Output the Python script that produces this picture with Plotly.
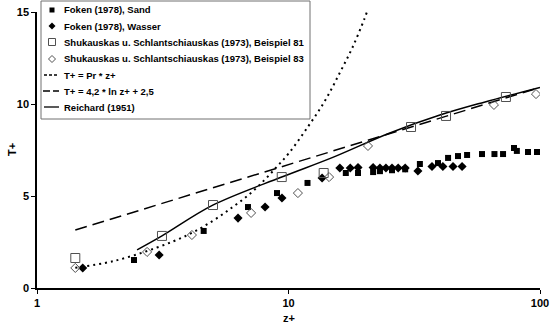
import plotly.graph_objects as go

# ---- data ----
sand_z = [2.43, 4.6, 6.9, 9.0, 11.9, 16.9, 18.9, 21.7, 23.1, 25.8, 29.1, 33.3, 39.3,
          43.1, 47.2, 51.3, 58.8, 65.9, 71.3, 78.8, 80.9, 89.6, 97.3]
sand_t = [1.52, 3.10, 4.40, 5.16, 5.71, 6.25, 6.25, 6.3, 6.35, 6.4, 6.45, 6.74, 6.79,
          7.07, 7.17, 7.23, 7.28, 7.28, 7.28, 7.61, 7.45, 7.39, 7.39]

water_z = [1.52, 3.06, 6.3, 8.07, 9.42, 13.6, 16.0, 17.6, 18.9, 21.7, 23.1, 24.4, 25.8,
           27.3, 29.1, 32.7, 37.2, 41.1, 45.1, 49.0]
water_t = [1.09, 1.79, 3.80, 4.40, 4.89, 5.98, 6.52, 6.52, 6.55, 6.55, 6.52, 6.52, 6.52,
           6.52, 6.52, 6.36, 6.6, 6.6, 6.6, 6.6]

b81_z = [1.42, 3.14, 5.01, 9.4, 13.8, 30.7, 42.3, 73.2]
b81_t = [1.63, 2.83, 4.51, 6.03, 6.25, 8.75, 9.35, 10.38]

b83_z = [1.42, 2.74, 4.13, 7.1, 10.9, 14.5, 20.7, 65.6, 96.4]
b83_t = [1.09, 1.96, 2.88, 4.08, 5.16, 6.03, 7.72, 9.95, 10.54]

pr_z = [1.42, 2.0, 3.0, 4.0, 5.0, 6.0, 7.0, 8.0, 9.0, 10.0, 12.0, 14.0, 16.0, 18.0, 20.0, 20.5]
pr_t = [1.1, 1.45, 2.2, 2.9, 3.65, 4.4, 5.1, 5.85, 6.6, 7.3, 8.8, 10.2, 11.7, 13.1, 14.6, 15.0]

log_z = [1.42, 100]
log_t = [3.15, 10.9]

rei_z = [2.5, 3.14, 5.0, 9.4, 15, 25, 40, 60, 100]
rei_t = [2.07, 2.83, 4.5, 6.03, 7.1, 8.4, 9.4, 10.1, 10.9]

legend_labels = [
    "Foken (1978), Sand",
    "Foken (1978), Wasser",
    "Shukauskas u. Schlantschiauskas (1973), Beispiel 81",
    "Shukauskas u. Schlantschiauskas (1973), Beispiel 83",
    "T+ = Pr * z+",
    "T+ = 4,2 * ln z+ + 2,5",
    "Reichard (1951)",
]
x_ticks = [1, 10, 100]
y_ticks = [0, 5, 10, 15]
x_title = "z+"
y_title = "T+"

FONT = "Arial, Liberation Sans, sans-serif"
GREY = "#505050"

fig = go.Figure()
fig.add_trace(go.Scatter(x=pr_z, y=pr_t, mode="lines", line=dict(color="black", width=2, dash="2px,4px", shape="spline")))
fig.add_trace(go.Scatter(x=log_z, y=log_t, mode="lines", line=dict(color="black", width=1.5, dash="12px,6px")))
fig.add_trace(go.Scatter(x=rei_z, y=rei_t, mode="lines", line=dict(color="black", width=1.5, shape="spline")))
fig.add_trace(go.Scatter(x=sand_z, y=sand_t, mode="markers", marker=dict(symbol="square", size=6, color="black")))
fig.add_trace(go.Scatter(x=water_z, y=water_t, mode="markers", marker=dict(symbol="diamond", size=7, color="black")))
fig.add_trace(go.Scatter(x=b81_z, y=b81_t, mode="markers",
                         marker=dict(symbol="square-open", size=9, color=GREY, line=dict(width=1, color=GREY))))
fig.add_trace(go.Scatter(x=b83_z, y=b83_t, mode="markers",
                         marker=dict(symbol="diamond-open", size=7, color=GREY, line=dict(width=1, color=GREY))))

# ---- custom legend (layout positioning) ----
L, R, T, B = 37, 540, 12, 288
def px(x):
    return (x - L) / (R - L)
def py(y):
    return (B - y) / (B - T)

shapes = []
annotations = []
shapes.append(dict(type="rect", xref="paper", yref="paper", x0=px(41), x1=px(310), y0=py(119), y1=py(1),
                   line=dict(color="#707070", width=1), fillcolor="white", layer="above"))
rows = [10, 26, 42, 59, 75, 91, 107]
cx = 52
shapes.append(dict(type="rect", xref="paper", yref="paper", x0=px(cx - 2.5), x1=px(cx + 2.5),
                   y0=py(rows[0] + 2.5), y1=py(rows[0] - 2.5), fillcolor="black", line=dict(width=0), layer="above"))
r = rows[1]
shapes.append(dict(type="path", xref="paper", yref="paper",
                   path=f"M {px(cx-3.5)},{py(r)} L {px(cx)},{py(r-3.5)} L {px(cx+3.5)},{py(r)} L {px(cx)},{py(r+3.5)} Z",
                   fillcolor="black", line=dict(width=0), layer="above"))
r = rows[2]
shapes.append(dict(type="rect", xref="paper", yref="paper", x0=px(cx - 3.5), x1=px(cx + 3.5),
                   y0=py(r + 3.5), y1=py(r - 3.5), line=dict(color=GREY, width=1), layer="above"))
r = rows[3]
shapes.append(dict(type="path", xref="paper", yref="paper",
                   path=f"M {px(cx-3.5)},{py(r)} L {px(cx)},{py(r-3.5)} L {px(cx+3.5)},{py(r)} L {px(cx)},{py(r+3.5)} Z",
                   line=dict(color=GREY, width=1), layer="above"))
shapes.append(dict(type="line", xref="paper", yref="paper", x0=px(44), x1=px(57), y0=py(rows[4]), y1=py(rows[4]),
                   line=dict(color="black", width=1.3, dash="3px,2px"), layer="above"))
shapes.append(dict(type="line", xref="paper", yref="paper", x0=px(43), x1=px(59), y0=py(rows[5]), y1=py(rows[5]),
                   line=dict(color="black", width=1.3, dash="7px,3px"), layer="above"))
shapes.append(dict(type="line", xref="paper", yref="paper", x0=px(44), x1=px(59), y0=py(rows[6]), y1=py(rows[6]),
                   line=dict(color="black", width=1.3), layer="above"))
for lab, r in zip(legend_labels, rows):
    annotations.append(dict(text=f"<b>{lab}</b>", xref="paper", yref="paper", x=px(62), y=py(r),
                            xanchor="left", yanchor="middle", showarrow=False,
                            font=dict(family=FONT, size=9.5, color="black")))
# axis titles
annotations.append(dict(text=f"<b>{x_title}</b>", xref="paper", yref="paper", x=px(289), y=py(318),
                        xanchor="center", yanchor="middle", showarrow=False, font=dict(family=FONT, size=11)))
annotations.append(dict(text=f"<b>{y_title}</b>", xref="paper", yref="paper", x=px(12), y=py(150),
                        xanchor="center", yanchor="middle", showarrow=False, textangle=-90,
                        font=dict(family=FONT, size=11)))

fig.update_layout(
    width=550, height=332,
    margin=dict(l=L, r=550 - R, t=T, b=332 - B, autoexpand=False),
    paper_bgcolor="white", plot_bgcolor="white",
    showlegend=False,
    shapes=shapes, annotations=annotations,
    font=dict(family=FONT, size=11, color="black"),
)
fig.update_xaxes(type="log", range=[0, 2], tickvals=x_ticks, ticktext=[f"<b>{v}</b>" for v in x_ticks],
                 showgrid=False, zeroline=False, showline=True, linecolor="black", linewidth=1.5,
                 ticks="outside", ticklen=4, tickcolor="black", automargin=False)
fig.update_yaxes(range=[0, 15], tickvals=y_ticks, ticktext=[f"<b>{v}</b>" for v in y_ticks],
                 showgrid=False, zeroline=False, showline=True, linecolor="black", linewidth=1.5,
                 ticks="outside", ticklen=4, tickcolor="black", automargin=False)

fig.write_html("out.html", config={"displayModeBar": False},
               post_script="document.body.style.margin='0';document.body.style.overflow='hidden';")
